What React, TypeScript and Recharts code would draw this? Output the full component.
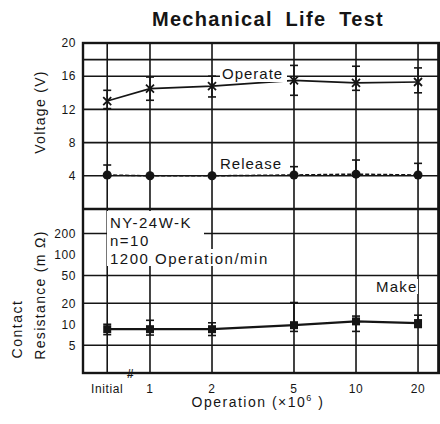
import { LineChart, Line, XAxis, YAxis, CartesianGrid, ErrorBar } from 'recharts';

// "Initial" sits left of 1 on the log axis, like the break in the original sheet
const xPos = [0.62, 1, 2, 5, 10, 20];
const xLabels = ['Initial', '1', '2', '5', '10', '20'];

const operate = [13.0, 14.5, 14.8, 15.5, 15.2, 15.3];
const operateLow = [0.9, 1.4, 1.3, 1.8, 0.9, 1.3];
const operateHigh = [1.3, 1.4, 1.2, 1.8, 2.0, 1.7];

const release = [4.1, 4.0, 4.0, 4.1, 4.2, 4.1];
const releaseLow = [0.2, 0, 0, 0.1, 0.2, 0.1];
const releaseHigh = [1.2, 0, 0, 1.0, 1.7, 1.4];

const make = [8.5, 8.5, 8.5, 9.7, 11.0, 10.4];
const makeLow = [1.4, 1.5, 1.6, 1.8, 3.1, 1.4];
const makeHigh = [1.5, 2.9, 2.0, 10.8, 2.1, 3.1];

const voltTicks = [0, 4, 8, 12, 16, 18, 20];
const resTicks = [5, 10, 20, 50, 100, 200];

const voltData = xPos.map((x, i) => ({
  x,
  operate: operate[i],
  opErr: [operateLow[i], operateHigh[i]],
  release: release[i],
  relErr: [releaseLow[i], releaseHigh[i]],
}));

const resData = xPos.map((x, i) => ({
  x,
  make: make[i],
  makeErr: [makeLow[i], makeHigh[i]],
}));

const FONT = '"Liberation Sans", Arial, Helvetica, sans-serif';
const INK = '#151515';
const tickStyle = { fontSize: 12, fill: INK, fontFamily: FONT, letterSpacing: 0.6 };

const crossDot = (p: any) => (
  <path
    key={`c${p.index}`}
    d={`M${p.cx - 4},${p.cy - 4}L${p.cx + 4},${p.cy + 4}M${p.cx - 4},${p.cy + 4}L${p.cx + 4},${p.cy - 4}`}
    stroke={INK}
    strokeWidth={1.8}
    fill="none"
  />
);

const roundDot = (p: any) => <circle key={`r${p.index}`} cx={p.cx} cy={p.cy} r={4.5} fill={INK} />;

const squareDot = (p: any) => (
  <rect key={`s${p.index}`} x={p.cx - 4} y={p.cy - 4} width={8} height={8} fill={INK} />
);

const xDomain: [number, number] = [0.473, 25];

export default function App() {
  return (
    <div style={{ position: 'absolute', left: 0, top: 0, width: 440, height: 424, background: '#fff' }}>
      <div style={{ position: 'absolute', left: 0, top: 0 }}>
        <LineChart width={440} height={210} data={voltData} margin={{ top: 43, right: 2, bottom: 1, left: 43 }}>
          <CartesianGrid stroke={INK} strokeWidth={1.6} />
          <XAxis
            dataKey="x"
            type="number"
            scale="log"
            domain={xDomain}
            ticks={xPos}
            allowDataOverflow
            hide
          />
          <YAxis
            type="number"
            domain={[0, 20]}
            ticks={voltTicks}
            width={40}
            tickSize={0}
            tickMargin={7}
            axisLine={false}
            tick={tickStyle}
            tickFormatter={(v) => (v === 18 ? '' : String(v))}
          />
          <Line dataKey="operate" stroke={INK} strokeWidth={1.6} dot={crossDot} isAnimationActive={false}>
            <ErrorBar dataKey="opErr" width={4} stroke={INK} strokeWidth={1.6} direction="y" />
          </Line>
          <Line
            dataKey="release"
            stroke={INK}
            strokeWidth={1.5}
            strokeDasharray="4 2"
            dot={roundDot}
            isAnimationActive={false}
          >
            <ErrorBar dataKey="relErr" width={4} stroke={INK} strokeWidth={1.6} direction="y" />
          </Line>
        </LineChart>
      </div>
      <div style={{ position: 'absolute', left: 0, top: 209 }}>
        <LineChart width={440} height={215} data={resData} margin={{ top: 0, right: 2, bottom: 0, left: 43 }}>
          <CartesianGrid stroke={INK} strokeWidth={1.6} />
          <XAxis
            dataKey="x"
            type="number"
            scale="log"
            domain={xDomain}
            ticks={xPos}
            allowDataOverflow
            height={51}
            tickSize={0}
            tickMargin={11}
            axisLine={false}
            tick={tickStyle}
            tickFormatter={(v, i) => xLabels[i] ?? String(v)}
          />
          <YAxis
            type="number"
            scale="log"
            domain={[2, 450]}
            ticks={resTicks}
            allowDataOverflow
            width={40}
            tickSize={0}
            tickMargin={7}
            axisLine={false}
            tick={tickStyle}
          />
          <Line dataKey="make" stroke={INK} strokeWidth={2.2} dot={squareDot} isAnimationActive={false}>
            <ErrorBar dataKey="makeErr" width={4} stroke={INK} strokeWidth={1.6} direction="y" />
          </Line>
        </LineChart>
      </div>
      <svg
        width={440}
        height={424}
        style={{ position: 'absolute', left: 0, top: 0, pointerEvents: 'none' }}
        fontFamily={FONT}
      >
        <rect x={83} y={43} width={356} height={330} fill="none" stroke={INK} strokeWidth={2.4} />
        <line x1={83} x2={439} y1={209} y2={209} stroke={INK} strokeWidth={2.4} />

        <text x={268} y={26} textAnchor="middle" fontSize={20} fontWeight="bold" letterSpacing={1.3} wordSpacing={6} fill={INK}>
          Mechanical Life Test
        </text>

        <rect x={220} y={66} width={67} height={16} fill="#fff" />
        <text x={222} y={79} fontSize={15} letterSpacing={1} fill={INK}>Operate</text>
        <rect x={218} y={156} width={67} height={15} fill="#fff" />
        <text x={220} y={169} fontSize={15} letterSpacing={1} fill={INK}>Release</text>
        <rect x={373} y={279} width={45} height={15} fill="#fff" />
        <text x={376} y={292} fontSize={15} letterSpacing={1.2} fill={INK}>Make</text>

        <rect x={107} y={211} width={97} height={55} fill="#fff" />
        <rect x={107} y={249} width={172} height={17} fill="#fff" />
        <text x={110} y={228} fontSize={15} letterSpacing={1.5} fill={INK}>NY-24W-K</text>
        <text x={110} y={246} fontSize={15} letterSpacing={1.5} fill={INK}>n=10</text>
        <text x={110} y={264} fontSize={15} letterSpacing={1.5} fill={INK}>1200 Operation/min</text>

        <text x={130} y={378} textAnchor="middle" fontSize={12} fontWeight="bold" fontStyle="italic" fill={INK}>#</text>

        <text
          transform="translate(45,112) rotate(-90)"
          textAnchor="middle"
          fontSize={14}
          letterSpacing={1.3}
          fill={INK}
        >
          Voltage (V)
        </text>
        <text
          transform="translate(22,329) rotate(-90)"
          textAnchor="middle"
          fontSize={14}
          letterSpacing={1.5}
          fill={INK}
        >
          Contact
        </text>
        <text
          transform="translate(45,295) rotate(-90)"
          textAnchor="middle"
          fontSize={14}
          letterSpacing={1.3}
          fill={INK}
        >
          Resistance (m Ω)
        </text>
        <text x={258} y={407} textAnchor="middle" fontSize={14} letterSpacing={1.5} fill={INK}>
          Operation (×10<tspan dy={-6} fontSize={9}>6</tspan>
          <tspan dy={6}> )</tspan>
        </text>
      </svg>
    </div>
  );
}
